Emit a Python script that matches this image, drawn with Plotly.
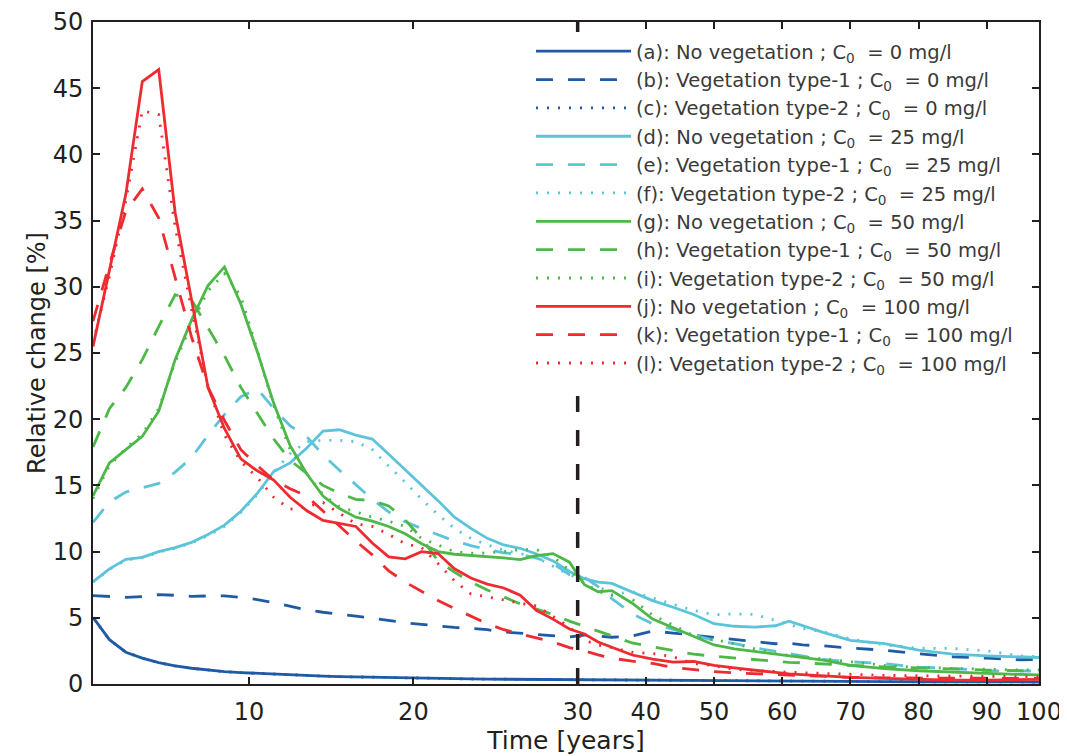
import plotly.graph_objects as go

# ---------------- data ----------------
time_early = [0.5, 1.5, 2.5, 3.5, 4.5, 5.5, 6.5, 7.5, 8.5, 9.5,
              10.5, 11.5, 12.5, 13.5, 14.5, 15.5, 16.5, 17.5, 18.5, 19.5,
              20.5, 21.5, 22.5, 23.5, 24.5, 25.5, 26.5, 27.5, 28.5, 29.5]
time_late = [31, 33, 35, 38, 41, 44, 47, 50, 53, 56, 59, 61, 63, 66, 70, 75, 80, 85, 90, 95, 97.7]
time_years = time_early + time_late

# (a) No vegetation, C0 = 0 mg/l
a_none_0 = [5.03, 3.35, 2.4, 1.95, 1.61, 1.36, 1.19, 1.06, 0.93, 0.86,
            0.8, 0.74, 0.68, 0.64, 0.6, 0.56, 0.53, 0.5, 0.48, 0.46,
            0.44, 0.42, 0.4, 0.38, 0.37, 0.36, 0.35, 0.34, 0.33, 0.32,
            0.31, 0.3, 0.29, 0.28, 0.27, 0.26, 0.25, 0.24, 0.23, 0.22, 0.21,
            0.21, 0.2, 0.2, 0.19, 0.18, 0.17, 0.16, 0.16, 0.15, 0.15]
# (b) Vegetation type-1, C0 = 0 mg/l
b_veg1_0 = [6.67, 6.62, 6.55, 6.6, 6.75, 6.7, 6.62, 6.65, 6.65, 6.55,
            6.38, 6.15, 5.85, 5.6, 5.42, 5.25, 5.12, 4.98, 4.8, 4.62,
            4.5, 4.38, 4.27, 4.2, 4.1, 3.93, 3.83, 3.74, 3.65, 3.55,
            3.7, 3.6, 3.53, 3.62, 4.0, 3.85, 3.7, 3.53, 3.38, 3.2, 3.04,
            3.08, 2.95, 2.88, 2.72, 2.55, 2.28, 2.06, 1.95, 1.83, 1.86]
# (c) Vegetation type-2, C0 = 0 mg/l (hidden under (a))
c_veg2_0 = [5.0, 3.35, 2.4, 1.95, 1.61, 1.36, 1.19, 1.06, 0.93, 0.86,
            0.8, 0.74, 0.68, 0.64, 0.6, 0.56, 0.53, 0.5, 0.48, 0.46,
            0.44, 0.42, 0.4, 0.38, 0.37, 0.36, 0.35, 0.34, 0.33, 0.32,
            0.31, 0.3, 0.29, 0.28, 0.27, 0.26, 0.25, 0.24, 0.23, 0.22, 0.21,
            0.21, 0.2, 0.2, 0.19, 0.18, 0.17, 0.16, 0.16, 0.15, 0.15]
# (d) No vegetation, C0 = 25 mg/l
d_none_25 = [7.72, 8.7, 9.42, 9.57, 10.0, 10.3, 10.7, 11.3, 12.0, 13.05,
             14.4, 16.05, 16.7, 17.8, 19.1, 19.2, 18.8, 18.5, 17.35, 16.2,
             15.0, 13.85, 12.6, 11.75, 11.0, 10.5, 10.25, 9.82, 9.3, 8.5,
             7.95, 7.7, 7.6, 6.93, 6.3, 5.8, 5.25, 4.55, 4.36, 4.3, 4.4,
             4.75, 4.4, 3.9, 3.3, 3.05, 2.55, 2.25, 2.13, 2.03, 2.0]
# (e) Vegetation type-1, C0 = 25 mg/l
e_veg1_25 = [12.2, 13.75, 14.5, 14.8, 15.15, 16.0, 17.1, 18.8, 20.35, 21.7,
             22.3, 20.8, 19.5, 18.7, 17.3, 16.15, 15.05, 13.95, 13.0, 12.25,
             11.75, 11.3, 10.8, 10.45, 10.15, 9.9, 9.8, 9.5, 9.1, 8.25,
             8.05, 7.35, 6.45, 5.3, 4.55, 4.1, 3.7, 3.3, 3.05, 2.73, 2.46,
             2.28, 2.1, 1.85, 1.68, 1.53, 1.28, 1.17, 1.0, 0.98, 0.98]
# (f) Vegetation type-2, C0 = 25 mg/l
f_veg2_25 = [7.7, 8.65, 9.35, 9.55, 9.95, 10.25, 10.65, 11.2, 11.9, 12.95,
             14.3, 16.0, 17.4, 18.3, 18.4, 18.4, 18.3, 17.7, 16.45, 15.25,
             13.95, 12.8, 11.75, 11.0, 10.5, 10.1, 9.85, 9.55, 8.9, 8.23,
             7.95, 7.4, 6.75, 6.97, 6.5, 6.0, 5.55, 5.23, 5.3, 5.25, 4.8,
             4.45, 4.2, 3.95, 3.4, 2.95, 2.7, 2.69, 2.5, 2.12, 2.06]
# (g) No vegetation, C0 = 50 mg/l
g_none_50 = [14.2, 16.7, 17.7, 18.7, 20.6, 24.5, 27.5, 30.1, 31.5, 28.7,
             25.1, 21.2, 18.0, 15.9, 14.2, 13.25, 12.6, 12.3, 11.9, 11.35,
             10.6, 10.0, 9.8, 9.72, 9.63, 9.52, 9.4, 9.7, 9.85, 9.2,
             7.5, 6.97, 7.05, 6.1, 4.9, 4.25, 3.6, 2.95, 2.65, 2.45, 2.3,
             2.12, 2.04, 1.8, 1.41, 1.16, 1.0, 0.88, 0.8, 0.72, 0.68]
# (h) Vegetation type-1, C0 = 50 mg/l
h_veg1_50 = [17.9, 20.8, 22.4, 24.5, 27.0, 29.4, 29.0, 26.9, 24.8, 22.4,
             20.4, 18.5, 16.9, 15.9, 15.0, 14.4, 13.95, 13.85, 13.45, 12.4,
             11.0, 9.3, 8.45, 7.7, 7.1, 6.55, 6.05, 5.65, 5.25, 4.75,
             4.35, 3.95, 3.6, 3.1, 2.8, 2.5, 2.25, 2.1, 1.98, 1.83, 1.7,
             1.63, 1.6, 1.5, 1.4, 1.3, 1.2, 1.1, 1.05, 1.0, 0.95]
# (i) Vegetation type-2, C0 = 50 mg/l
i_veg2_50 = [14.0, 16.5, 17.8, 18.9, 20.8, 24.3, 27.2, 29.7, 31.0, 29.3,
             25.2, 21.0, 17.7, 15.9, 14.3, 13.4, 13.0, 12.6, 12.3, 11.9,
             11.0, 10.5, 10.0, 9.87, 9.9, 10.0, 10.15, 10.15, 9.6, 8.6,
             7.6, 7.0, 6.7, 6.4, 5.2, 4.45, 3.65, 3.35, 3.05, 2.65, 2.3,
             2.17, 2.07, 1.92, 1.68, 1.4, 1.26, 1.18, 1.1, 1.06, 1.06]
# (j) No vegetation, C0 = 100 mg/l
j_none_100 = [25.5, 31.2, 37.0, 45.5, 46.4, 35.6, 28.9, 22.4, 19.3, 17.0,
              16.1, 15.4, 14.1, 13.1, 12.35, 12.15, 11.9, 10.65, 9.6, 9.45,
              10.0, 9.85, 8.7, 8.0, 7.55, 7.25, 6.7, 5.55, 4.9, 4.15,
              3.78, 3.17, 2.78, 2.19, 1.87, 1.65, 1.7, 1.4, 1.21, 1.02, 0.87,
              0.76, 0.7, 0.61, 0.5, 0.42, 0.35, 0.3, 0.3, 0.33, 0.35]
# (k) Vegetation type-1, C0 = 100 mg/l
k_veg1_100 = [27.4, 31.7, 35.7, 37.4, 35.2, 30.7, 26.2, 22.4, 19.9, 17.7,
              16.5, 15.4, 14.75, 14.2, 13.05, 11.9, 10.8, 9.75, 8.55, 7.7,
              7.0, 6.3, 5.7, 5.1, 4.55, 4.1, 3.8, 3.5, 3.17, 2.75,
              2.5, 2.2, 1.95, 1.72, 1.55, 1.25, 1.07, 0.93, 0.84, 0.78, 0.7,
              0.65, 0.6, 0.55, 0.5, 0.46, 0.44, 0.42, 0.42, 0.42, 0.42]
# (l) Vegetation type-2, C0 = 100 mg/l
l_veg2_100 = [25.8, 30.8, 36.5, 43.3, 43.0, 34.5, 28.3, 22.5, 18.8, 16.8,
              15.6, 14.1, 13.2, 13.4, 13.7, 12.9, 12.1, 11.9, 11.3, 10.6,
              10.3, 9.1, 7.8, 6.8, 6.6, 6.35, 6.1, 5.9, 5.1, 4.3,
              3.3, 2.95, 2.75, 2.4, 2.3, 2.05, 1.55, 1.38, 1.1, 1.0, 0.94,
              0.89, 0.85, 0.8, 0.7, 0.65, 0.62, 0.6, 0.58, 0.55, 0.55]

series_values = [a_none_0, b_veg1_0, c_veg2_0, d_none_25, e_veg1_25, f_veg2_25,
                 g_none_50, h_veg1_50, i_veg2_50, j_none_100, k_veg1_100, l_veg2_100]
series_letters = ["a", "b", "c", "d", "e", "f", "g", "h", "i", "j", "k", "l"]
scenario_names = ["No vegetation", "Vegetation type-1", "Vegetation type-2"]
concentrations = [0, 25, 50, 100]

x_tick_years = [10, 20, 30, 40, 50, 60, 70, 80, 90]
x_tick_labels = ["10", "20", "30", "40", "50", "60", "70", "80", "90", "100"]
y_ticks = [0, 5, 10, 15, 20, 25, 30, 35, 40, 45, 50]
marker_year = 30

# ---------------- styling ----------------
conc_colors = {0: "#1f5aa6", 25: "#5cc4d9", 50: "#4db848", 100: "#ee2b30"}
scenario_dash = ["solid", "17px,15px", "2px,9px"]
axis_color = "#231f20"

# piecewise time axis: linear to 30 years, compressed afterwards
BREAK = 30.0
LATE_SCALE = 0.415
X_START = 0.5
X_END_YEAR = 97.66


def to_axis(t):
    return t if t <= BREAK else BREAK + (t - BREAK) * LATE_SCALE


x_axis_vals = [to_axis(t) for t in time_years]

fig = go.Figure()
idx = 0
for conc in concentrations:
    for s, scen in enumerate(scenario_names):
        letter = series_letters[idx]
        name = "(%s): %s ; C<sub>0</sub>\u00a0 = %d mg/l" % (letter, scen, conc)
        fig.add_trace(go.Scatter(
            x=x_axis_vals, y=series_values[idx], mode="lines", name=name,
            line=dict(color=conc_colors[conc], width=2.8, dash=scenario_dash[s]),
        ))
        idx += 1

# vertical dashed marker at 30 years
fig.add_shape(type="line", xref="x", yref="y",
              x0=to_axis(marker_year), x1=to_axis(marker_year), y0=0, y1=50,
              line=dict(color=axis_color, width=3.5, dash="16px,18px"), layer="above")

tickvals = [to_axis(t) for t in x_tick_years] + [to_axis(X_END_YEAR)]

font_family = "DejaVu Sans, Liberation Sans, Arial, sans-serif"

fig.update_xaxes(
    range=[X_START, to_axis(X_END_YEAR)], automargin=False,
    tickmode="array", tickvals=tickvals, ticktext=x_tick_labels,
    ticks="inside", ticklen=7, tickwidth=2, tickcolor=axis_color,
    showline=True, linewidth=2, linecolor=axis_color, mirror="allticks",
    showgrid=False, zeroline=False,
    tickfont=dict(size=24, color=axis_color, family=font_family),
    ticklabelstandoff=5,
    title=dict(text="Time [years]", font=dict(size=25, color=axis_color, family=font_family), standoff=2),
)
fig.update_yaxes(
    range=[0, 50], tickmode="array", tickvals=y_ticks, automargin=False,
    ticks="inside", ticklen=7, tickwidth=2, tickcolor=axis_color,
    showline=True, linewidth=2, linecolor=axis_color, mirror="allticks",
    showgrid=False, zeroline=False,
    tickfont=dict(size=24, color=axis_color, family=font_family),
    ticklabelstandoff=3,
    title=dict(text="Relative change [%]", font=dict(size=24, color=axis_color, family=font_family), standoff=0),
)

# the page body adds an 8px offset, so margins are reduced accordingly
fig.update_layout(
    width=1067, height=756,
    margin=dict(l=85, r=36, t=14, b=80, pad=0),
    paper_bgcolor="white", plot_bgcolor="white",
    font=dict(family=font_family, color=axis_color),
    legend=dict(
        x=(531 - 93) / 946, y=1 - 10 / 662, xanchor="left", yanchor="top",
        bgcolor="white", borderwidth=0,
        font=dict(size=19.5, color="#3a3a3a", family=font_family),
        itemwidth=95, tracegroupgap=0,
    ),
    showlegend=True,
)

fig.write_html("out.html", config={"displayModeBar": False})
